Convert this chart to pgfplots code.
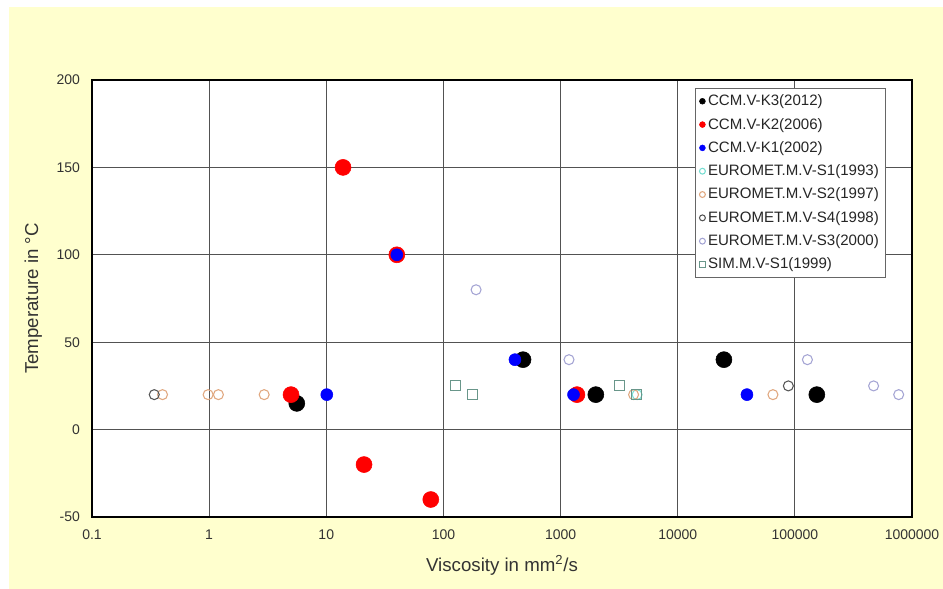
\documentclass[border=0pt]{standalone}
\usepackage{fontspec}
\setmainfont{Liberation Sans}
\usepackage{pgfplots}
\pgfplotsset{compat=1.18}

\definecolor{bgyellow}{RGB}{255,255,206}
\definecolor{cSone}{RGB}{120,222,210}
\definecolor{cStwo}{RGB}{225,168,128}
\definecolor{cSfour}{RGB}{85,85,85}
\definecolor{cSthree}{RGB}{165,165,212}
\definecolor{cSim}{RGB}{105,150,138}

\begin{document}
\begin{tikzpicture}
  % page: 943 x 589 px at 0.75pt/px, axis box at the origin
  \fill[white] (-69pt,-54pt) rectangle (638.25pt,387.75pt);
  \fill[bgyellow] (-62.25pt,-54pt) rectangle (638.25pt,382.5pt);
  \begin{axis}[
      scale only axis,
      width=615pt, height=327.75pt,
      xmode=log,
      xmin=0.1, xmax=1000000,
      ymin=-50, ymax=200,
      xtick={0.1,1,10,100,1000,10000,100000,1000000},
      xticklabels={0.1,1,10,100,1000,10000,100000,1000000},
      ytick={-50,0,50,100,150,200},
      minor tick num=0,
      major tick length=0pt, minor tick length=0pt,
      grid=major,
      major grid style={black!68, line width=0.95pt},
      axis line style={black, line width=1.3pt},
      axis background/.style={fill=white},
      /pgf/number format/assume math mode=true,
      tick label style={font=\fontsize{10.5}{12}\selectfont, text=black!80},
      yticklabel style={xshift=-5.5pt},
      xticklabel style={yshift=-6pt},
      xlabel={Viscosity in mm\textsuperscript{2}/s},
      ylabel={Temperature in °C},
      every axis x label/.style={at={([yshift=-36pt]axis description cs:0.5,0)}, anchor=center,
        font=\fontsize{14}{16}\selectfont, text=black!80},
      every axis y label/.style={at={([xshift=-44pt]axis description cs:0,0.5)}, anchor=center, rotate=90,
        font=\fontsize{14}{16}\selectfont, text=black!80},
      legend style={at={(0.968,0.982)}, anchor=north east, draw=black!60, fill=white,
        font=\fontsize{11.3}{13}\selectfont, text=black!85, row sep=3.8pt, inner sep=3pt,
        cells={anchor=west}},
      legend image code/.code={\draw[#1, mark size=2.2pt] plot coordinates {(0.08cm,0cm)};},
    ]
    % CCM.V-K3 (2012)
    \addplot[only marks, mark=*, color=black, mark size=6pt]
      coordinates {(5.6,15) (478,40) (2000,20) (24800,40) (154000,20)};
    % CCM.V-K2 (2006)
    \addplot[only marks, mark=*, color=red, mark size=6pt]
      coordinates {(5.0,20) (13.9,150) (40,100) (21,-20) (78,-40) (1380,20)};
    % CCM.V-K1 (2002)
    \addplot[only marks, mark=*, color=blue, mark size=4.5pt]
      coordinates {(10.1,20) (40,100) (408,40) (1290,20) (39000,20)};
    % EUROMET.M.V-S1 (1993)
    \addplot[only marks, mark=o, color=cSone, mark size=3.75pt, mark options={line width=0.8pt}]
      coordinates {(4500,20)};
    % EUROMET.M.V-S2 (1997)
    \addplot[only marks, mark=o, color=cStwo, mark size=3.75pt, mark options={line width=0.8pt}]
      coordinates {(0.4,20) (0.98,20) (1.2,20) (2.95,20) (4200,20) (65000,20)};
    % EUROMET.M.V-S4 (1998)
    \addplot[only marks, mark=o, color=cSfour, mark size=3.75pt, mark options={line width=0.8pt}]
      coordinates {(0.34,20) (88000,25)};
    % EUROMET.M.V-S3 (2000)
    \addplot[only marks, mark=o, color=cSthree, mark size=3.75pt, mark options={line width=0.8pt}]
      coordinates {(190,80) (1180,40) (128000,40) (470000,25) (770000,20)};
    % SIM.M.V-S1 (1999)
    \addplot[only marks, mark=square, color=cSim, mark size=3.75pt, mark options={line width=0.8pt}]
      coordinates {(127,25) (178,20) (3160,25) (4420,20)};
    \legend{CCM.V-K3(2012), CCM.V-K2(2006), CCM.V-K1(2002),
      EUROMET.M.V-S1(1993), EUROMET.M.V-S2(1997), EUROMET.M.V-S4(1998),
      EUROMET.M.V-S3(2000), SIM.M.V-S1(1999)}
  \end{axis}
  \pgfresetboundingbox
  \useasboundingbox (-69pt,-54pt) rectangle (638.25pt,387.75pt);
\end{tikzpicture}
\end{document}
